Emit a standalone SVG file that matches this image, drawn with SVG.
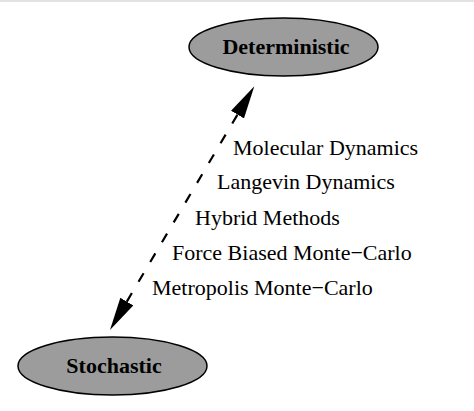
<svg xmlns="http://www.w3.org/2000/svg" width="474" height="411" viewBox="0 0 474 411">
<style>
.node ellipse{fill:#9c9c9c;stroke:#000;stroke-width:1.5}
.node text{font-family:"Liberation Serif","Times New Roman",serif;font-weight:bold;font-size:22px;text-anchor:middle;fill:#000}
.lbl{font-family:"Liberation Serif","Times New Roman",serif;font-size:22px;fill:#000}
.edge{fill:none;stroke:#000;stroke-width:2.2;stroke-dasharray:10 13}
</style>
<defs>
<marker id="ah" markerUnits="userSpaceOnUse" viewBox="0 -8 34 16" refX="0" refY="0" markerWidth="34" markerHeight="16" orient="auto-start-reverse">
<path d="M0,-7.5 L33,0 L0,7.5 z" fill="#000"/>
</marker>
</defs>
<rect x="0" y="0" width="474" height="411" fill="#fff"/>
<rect x="0" y="0" width="474" height="2" fill="#e2e2e2"/>
<g id="connectors">
<path class="edge" d="M126.8,301.6 L237.5,114.6" marker-start="url(#ah)" marker-end="url(#ah)"/>
<text class="lbl" x="233" y="155">Molecular Dynamics</text>
<text class="lbl" x="217" y="189">Langevin Dynamics</text>
<text class="lbl" x="195" y="225">Hybrid Methods</text>
<text class="lbl" x="172" y="260">Force Biased Monte−Carlo</text>
<text class="lbl" x="152" y="295">Metropolis Monte−Carlo</text>
</g>
<g id="deterministic" class="node">
<ellipse cx="283.5" cy="47" rx="94.5" ry="29"/>
<text x="286" y="54">Deterministic</text>
</g>
<g id="stochastic" class="node">
<ellipse cx="112.5" cy="366" rx="94.5" ry="29"/>
<text x="114" y="373">Stochastic</text>
</g>
</svg>
